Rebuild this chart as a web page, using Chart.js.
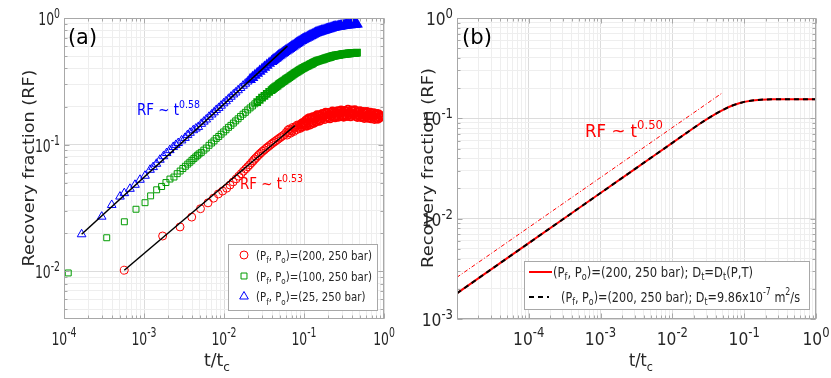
<!DOCTYPE html>
<html><head><meta charset="utf-8">
<script src="https://cdn.jsdelivr.net/npm/chart.js@4/dist/chart.umd.min.js"></script>
<style>
html,body{margin:0;padding:0;background:#fff;width:831px;height:378px;overflow:hidden}
#wa{position:absolute;left:0;top:0;width:415px;height:378px}
#wb{position:absolute;left:415px;top:0;width:416px;height:378px}
</style></head><body>
<div id="wa"><canvas id="ca"></canvas></div>
<div id="wb"><canvas id="cb"></canvas></div>
<script>
// ---------------- Panel (a) data ----------------
const redT = [5.67e-4,1.71e-3,2.82e-3,3.95e-3,5.08e-3,6.31e-3,7.4e-3,8.49e-3,9.6e-3,0.0108,
 0.0119,0.0130,0.0142,0.0153,0.0164,0.0175,0.0187,0.0198,0.0209,0.0221,0.0232,0.0243,0.0254,0.0266,0.0277,
 0.0290,0.0305,0.0320,0.0336,0.0352,0.0370,0.0388,0.0407,0.0427,0.0448,0.0470,0.0493,0.0517,0.0543,0.0570,
 0.060,0.0615,0.063,0.0645,0.066,0.0677,0.0694,0.0711,0.0729,0.0747,0.0766,0.0785,0.0805,0.0825,0.0846,0.0867,
 0.0889,0.0911,0.0934,0.0957,0.0981,0.1006,0.1031,0.1057,0.1083,0.111,0.1138,0.1166,0.1195,0.1225,0.1256,0.1287,
 0.1319,0.1352,0.1386,0.1421,0.1456,0.1493,0.153,0.1568,0.1608,0.1648,0.1689,0.1731,0.1775,0.1819,0.1865,0.1911,
 0.1959,0.2008,0.2058,0.211,0.2162,0.2216,0.2272,0.2329,0.2387,0.2447,0.2508,0.257,0.2635,0.27,0.2768,0.2837,
 0.2908,0.2981,0.3055,0.3132,0.321,0.329,0.3373,0.3457,0.3543,0.3632,0.3723,0.3816,0.3911,0.4009,0.4109,0.4212,
 0.4317,0.4425,0.4536,0.4649,0.4765,0.4884,0.5006,0.5132,0.526,0.5391,0.5526,0.5664,0.5806,0.5951,0.61,0.6252,
 0.6409,0.6569,0.6733,0.6901,0.7074,0.7251,0.7432,0.7618,0.7808,0.8003,0.8203,0.8408,0.8619,0.8834,0.9];
const redRF = [0.0102,0.0190,0.0224,0.0268,0.0312,0.0347,0.0378,0.0408,0.0430,0.0453,
 0.0480,0.0508,0.0537,0.0564,0.0590,0.0617,0.0643,0.0668,0.0693,0.0720,0.0745,0.0770,0.0793,0.0818,0.0840,
 0.0862,0.0888,0.0910,0.0935,0.0958,0.0982,0.1005,0.1030,0.1053,0.1077,0.1100,0.1125,0.1150,0.1175,0.1200,
 0.125,0.119,0.130,0.124,0.133,0.123,0.131,0.128,0.137,0.127,0.135,0.139,0.131,0.143,0.135,0.143,
 0.134,0.143,0.138,0.148,0.143,0.149,0.142,0.155,0.141,0.159,0.148,0.162,0.144,0.159,0.150,0.165,
 0.148,0.161,0.166,0.152,0.171,0.158,0.170,0.154,0.168,0.160,0.175,0.165,0.173,0.159,0.179,0.166,
 0.178,0.164,0.172,0.161,0.179,0.169,0.183,0.165,0.179,0.164,0.178,0.170,0.184,0.166,0.182,0.174,
 0.186,0.169,0.181,0.166,0.185,0.173,0.183,0.168,0.189,0.173,0.180,0.167,0.186,0.171,0.184,0.174,
 0.187,0.168,0.180,0.165,0.181,0.170,0.184,0.165,0.177,0.166,0.181,0.162,0.177,0.167,0.181,0.163,
 0.172,0.164,0.179,0.161,0.175,0.166,0.177,0.159,0.173,0.162,0.175,0.160,0.173,0.164,0.169];

const greenT = [1.13e-4,3.42e-4,5.68e-4,7.94e-4,1.03e-3,1.21e-3,1.44e-3,1.66e-3,1.88e-3,2.11e-3,2.37e-3,
 2.60e-3,2.83e-3,3.06e-3,3.29e-3,3.52e-3,3.74e-3,3.97e-3,4.20e-3,4.43e-3,4.65e-3,4.88e-3,
 0.0052,0.0056,0.006,0.0065,0.007,0.0075,0.008,0.0086,0.0092,0.0099,0.0106,0.0114,0.0122,0.0131,0.014,0.015,
 0.0161,0.0173,0.0185,0.0198,0.0212,0.0227,0.0243,0.026,0.0279,0.0299,0.032,0.0343,0.0367,0.0393,
 0.0407,0.0421,0.0436,0.0451,0.0467,0.0483,0.05,0.0517,0.0535,0.0554,0.0573,0.0593,0.0614,0.0635,0.0657,0.068,
 0.0704,0.0728,0.0754,0.078,0.0807,0.0835,0.0864,0.0894,0.0925,0.0957,0.099,0.1025,0.106,0.11,0.114,0.118,
 0.122,0.126,0.130,0.135,0.140,0.145,0.150,0.155,0.160,0.166,0.172,0.178,0.184,0.19,0.197,0.204,0.211,0.218,
 0.226,0.234,0.242,0.25,0.259,0.268,0.277,0.287,0.297,0.307,0.318,0.329,0.340,0.352,0.364,0.377,0.390,0.404,
 0.418,0.432,0.446,0.46];
const greenRF = [0.0097,0.0184,0.0246,0.0309,0.0348,0.0394,0.0440,0.0467,0.0502,0.0535,0.0555,
 0.0590,0.0619,0.0648,0.0675,0.0702,0.0726,0.0752,0.0776,0.0800,0.0823,0.0845,
 0.0869,0.0905,0.0940,0.0988,0.103,0.107,0.112,0.116,0.121,0.126,0.131,0.137,0.142,0.148,0.154,0.160,
 0.167,0.174,0.180,0.188,0.195,0.202,0.210,0.217,0.226,0.235,0.243,0.252,0.261,0.270,
 0.274,0.279,0.284,0.289,0.293,0.299,0.303,0.308,0.313,0.318,0.322,0.327,0.332,0.337,0.342,0.347,
 0.352,0.358,0.363,0.368,0.374,0.379,0.384,0.390,0.395,0.400,0.404,0.409,0.414,0.418,0.423,0.428,
 0.433,0.437,0.442,0.448,0.452,0.457,0.460,0.463,0.466,0.470,0.472,0.476,0.479,0.483,0.486,0.489,0.492,0.496,
 0.499,0.502,0.504,0.507,0.508,0.511,0.512,0.515,0.516,0.519,0.520,0.522,0.523,0.524,0.525,0.526,0.527,0.529,
 0.529,0.530,0.531,0.533];

const blueT = [1.66e-4,2.96e-4,3.95e-4,5.01e-4,5.67e-4,6.68e-4,7.72e-4,8.91e-4,1.03e-3,1.19e-3,1.30e-3,1.43e-3,
 1.58e-3,1.75e-3,1.92e-3,2.10e-3,2.32e-3,2.50e-3,2.68e-3,2.95e-3,3.25e-3,3.50e-3,3.76e-3,4.13e-3,4.45e-3,4.77e-3,
 0.0052,0.0056,0.006,0.0065,0.007,0.0075,0.008,0.0086,0.0092,0.0099,0.0106,0.0114,0.0122,0.0131,0.014,0.015,
 0.0161,0.0173,0.0185,0.0198,0.0212,0.0227,0.0243,0.026,0.0279,0.0299,0.032,0.0343,0.0367,0.0393,
 0.0407,0.0421,0.0436,0.0451,0.0467,0.0483,0.05,0.0517,0.0535,0.0554,0.0573,0.0593,0.0614,0.0635,0.0657,0.068,
 0.0704,0.0728,0.0754,0.078,0.0807,0.0835,0.0864,0.0894,0.0925,0.0957,0.099,0.1025,0.106,0.11,0.114,0.118,
 0.122,0.126,0.130,0.135,0.140,0.145,0.150,0.155,0.160,0.166,0.172,0.178,0.184,0.19,0.197,0.204,0.211,0.218,
 0.226,0.234,0.242,0.25,0.259,0.268,0.277,0.287,0.297,0.307,0.318,0.329,0.340,0.352,0.364,0.377,0.390,0.404,
 0.418,0.432,0.446,0.46];
const blueRF = [0.0196,0.0270,0.0334,0.0389,0.0414,0.0448,0.0482,0.0528,0.0568,0.0633,0.0665,0.0706,
 0.0760,0.0810,0.0859,0.0905,0.0959,0.0995,0.1030,0.1080,0.1130,0.1190,0.1240,0.1300,0.1340,0.1380,
 0.146,0.152,0.158,0.166,0.173,0.180,0.188,0.195,0.203,0.212,0.220,0.230,0.239,0.249,0.258,0.269,
 0.280,0.292,0.303,0.315,0.327,0.339,0.352,0.365,0.379,0.394,0.408,0.423,0.438,0.453,
 0.461,0.469,0.477,0.485,0.493,0.502,0.510,0.518,0.526,0.534,0.542,0.550,0.558,0.566,0.574,0.583,
 0.592,0.601,0.610,0.619,0.628,0.637,0.646,0.656,0.664,0.672,0.679,0.687,0.695,0.703,0.711,0.719,
 0.727,0.735,0.743,0.752,0.760,0.768,0.773,0.778,0.783,0.789,0.794,0.800,0.805,0.811,0.816,0.822,0.827,0.833,
 0.838,0.844,0.847,0.851,0.854,0.858,0.861,0.865,0.868,0.872,0.874,0.877,0.879,0.881,0.882,0.884,0.886,0.888,
 0.889,0.891,0.893,0.895];

const fitBlueT = [1.66e-4, 0.062];
const fitBlueRF = [0.0196, 0.60];
const fitRedT = [5.67e-4, 0.0772];
const fitRedRF = [0.0102, 0.1415];

const legendA = ['200', '100', '25'];

// ---------------- Panel (b) data ----------------
const modelT = [1.0e-5,3e-5,1e-4,3e-4,1e-3,3e-3,6e-3,0.01,0.015,0.02,0.025,0.03,0.04,0.05,0.06,0.07,0.085,0.1,0.13,0.17,0.25,0.4,1.0];
const varDtRF = [0.0018,0.00312,0.0057,0.00987,0.018,0.0312,0.0441,0.057,0.0698,0.0806,0.0898,0.0978,0.111,0.121,0.129,0.135,0.1415,0.1459,0.1508,0.1536,0.1548,0.155,0.155];
const constDtRF = [0.0018,0.00312,0.0057,0.00987,0.018,0.0312,0.0441,0.057,0.0698,0.0806,0.0898,0.0978,0.111,0.121,0.129,0.135,0.1415,0.1459,0.1508,0.1536,0.1548,0.155,0.155];
const slopeT = [1.0e-5, 0.05];
const slopeRF = [0.0026, 0.18];

// labelled decades (exponents)
const xTickExpA = [-4,-3,-2,-1,0];
const yTickExpA = [-2,-1,0];
const xTickExpB = [-4,-3,-2,-1,0];
const yTickExpB = [-3,-2,-1,0];

// ---------------- helpers ----------------
const FONT = '"DejaVu Sans", sans-serif';
const RED = 'rgb(255,0,0)', GREEN = 'rgb(0,155,0)', BLUE = 'rgb(0,0,255)';
const MAJOR_GRID = '#dcdcdc', MINOR_GRID = '#eeeeee', AXIS = '#a8a8a8', TXT = '#262626';

const pts = (xs, ys) => xs.map((v, i) => ({x: v, y: ys[i]}));
const denseWidth = (thr) => (c) => (c.raw && c.raw.x > thr) ? 1.8 : 1;

function logTicks(min, max) {
  const out = [];
  const e0 = Math.floor(Math.log10(min)), e1 = Math.ceil(Math.log10(max));
  for (let e = e0; e <= e1; e++) for (let m = 1; m <= 9; m++) {
    const v = m * Math.pow(10, e);
    if (v >= min * 0.9999 && v <= max * 1.0001) out.push({value: v, major: m === 1});
  }
  return out;
}

function drawRich(ctx, segs, x, y, o) {
  const size = o.size, k = o.k || 0.7;
  const rise = o.rise != null ? o.rise : 0.45, drop = o.drop != null ? o.drop : 0.28;
  ctx.save();
  ctx.fillStyle = o.color || TXT;
  ctx.textBaseline = 'alphabetic';
  ctx.textAlign = 'left';
  let w = 0;
  const parts = segs.map(([t, kind]) => {
    const f = kind ? size * k : size;
    ctx.font = f + 'px ' + FONT;
    const m = ctx.measureText(t).width;
    const p = {t, kind, f, off: w};
    w += m;
    return p;
  });
  const sx = o.fitW ? o.fitW / w : (o.sx || 1), sy = o.sy || 1;
  let x0 = 0;
  if (o.align === 'center') x0 = -w / 2; else if (o.align === 'right') x0 = -w;
  ctx.translate(x, y);
  if (o.rot) ctx.rotate(o.rot);
  ctx.scale(sx, sy);
  for (const p of parts) {
    ctx.font = p.f + 'px ' + FONT;
    const dy = p.kind === 1 ? size * drop : p.kind === 2 ? -size * rise : 0;
    ctx.fillText(p.t, x0 + p.off, dy);
  }
  ctx.restore();
  return sx;
}

function marker(ctx, style, x, y, r, color) {
  ctx.save();
  ctx.strokeStyle = color; ctx.lineWidth = 1;
  ctx.beginPath();
  if (style === 'circle') ctx.arc(x, y, r, 0, Math.PI * 2);
  else if (style === 'rect') { const s = Math.SQRT1_2 * r; ctx.rect(x - s, y - s, 2 * s, 2 * s); }
  else { for (let i = 0; i < 3; i++) { const a = i * 2 * Math.PI / 3; const px = x + Math.sin(a) * r, py = y - Math.cos(a) * r; i ? ctx.lineTo(px, py) : ctx.moveTo(px, py); } ctx.closePath(); }
  ctx.stroke();
  ctx.restore();
}

function frame(chart, t) {
  const {ctx, chartArea: a, scales: {x, y}} = chart;
  ctx.save();
  ctx.strokeStyle = AXIS; ctx.lineWidth = 1;
  const L = Math.round(a.left) + 0.5, R = Math.round(a.right) - 0.5, T = Math.round(a.top) + 0.5, B = Math.round(a.bottom) - 0.5;
  ctx.beginPath();
  for (const tk of x.ticks) {
    const px = Math.round(x.getPixelForValue(tk.value)) + 0.5, len = tk.major ? 5 : 3;
    ctx.moveTo(px, B); ctx.lineTo(px, B - len); ctx.moveTo(px, T); ctx.lineTo(px, T + len);
  }
  for (const tk of y.ticks) {
    const py = Math.round(y.getPixelForValue(tk.value)) + 0.5, len = tk.major ? 5 : 3;
    ctx.moveTo(L, py); ctx.lineTo(L + len, py); ctx.moveTo(R, py); ctx.lineTo(R - len, py);
  }
  ctx.stroke();
  ctx.strokeRect(L, T, R - L, B - T);
  ctx.restore();
  for (const e of t.xExp) {
    const px = x.getPixelForValue(Math.pow(10, e));
    drawRich(ctx, [['10', 0], [String(e), 2]], px, a.bottom + 26, {size: 18, sx: t.tsx, k: 0.75, rise: 0.42, align: 'center'});
  }
  for (const e of t.yExp) {
    const py = y.getPixelForValue(Math.pow(10, e));
    drawRich(ctx, [['10', 0], [String(e), 2]], a.left - 4, py + 7, {size: 18, sx: t.tsx, k: 0.75, rise: 0.38, align: 'right'});
  }
}

function logAxis(min, max) {
  return {
    type: 'logarithmic', min, max,
    ticks: {display: false},
    border: {display: false},
    grid: {color: (c) => (c.tick && c.tick.major) ? MAJOR_GRID : MINOR_GRID, drawTicks: false, lineWidth: 1},
    afterBuildTicks: (s) => { s.ticks = logTicks(min, max); }
  };
}

Chart.defaults.font.family = FONT;

// ---------------- Chart (a) ----------------
const decoA = {
  id: 'decoA',
  afterDraw(chart) {
    const ctx = chart.ctx;
    frame(chart, {xExp: xTickExpA, yExp: yTickExpA, tsx: 0.69});
    drawRich(ctx, [['(a)', 0]], 68, 44, {size: 22, fitW: 29, color: '#000'});
    drawRich(ctx, [['RF ~ t', 0], ['0.58', 2]], 137, 115, {size: 16, fitW: 63, color: BLUE});
    drawRich(ctx, [['RF ~ t', 0], ['0.53', 2]], 240, 189, {size: 16, fitW: 63, color: RED});
    drawRich(ctx, [['Recovery fraction (RF)', 0]], 34, 168, {size: 17.5, fitW: 197, sy: 0.88, rot: -Math.PI / 2, align: 'center'});
    drawRich(ctx, [['t/t', 0], ['c', 1]], 217, 366, {size: 17, fitW: 26, align: 'center'});
    ctx.save();
    ctx.fillStyle = '#fff'; ctx.fillRect(228, 244, 149, 66);
    ctx.strokeStyle = AXIS; ctx.strokeRect(228.5, 244.5, 149, 66);
    ctx.restore();
    const rows = [[255, 'circle', 4, RED], [276, 'rect', 4.2, GREEN], [296.5, 'triangle', 5, BLUE]];
    let lsx = null;
    rows.forEach(([ry, st, r, col], i) => {
      marker(ctx, st, 244, ry, r, col);
      const segs = [['(P', 0], ['f', 1], [', P', 0], ['o', 1], [')=(' + legendA[i] + ', 250 bar)', 0]];
      const o = {size: 13};
      if (lsx === null) o.fitW = 116; else o.sx = lsx;
      const s = drawRich(ctx, segs, 256, ry + 4.5, o);
      if (lsx === null) lsx = s;
    });
  }
};

new Chart(document.getElementById('ca'), {
  type: 'scatter',
  data: {
    datasets: [
      {type: 'line', data: pts(fitBlueT, fitBlueRF), borderColor: '#000', borderWidth: 1.5, pointRadius: 0, showLine: true, fill: false},
      {type: 'line', data: pts(fitRedT, fitRedRF), borderColor: '#000', borderWidth: 1.5, pointRadius: 0, showLine: true, fill: false},
      {data: pts(blueT, blueRF), pointStyle: 'triangle', pointRadius: 5, borderColor: BLUE, backgroundColor: 'rgba(0,0,0,0)', pointBorderWidth: denseWidth(0.02)},
      {data: pts(greenT, greenRF), pointStyle: 'rect', pointRadius: 4.2, borderColor: GREEN, backgroundColor: 'rgba(0,0,0,0)', pointBorderWidth: denseWidth(0.025)},
      {data: pts(redT, redRF), pointStyle: 'circle', pointRadius: 4, borderColor: RED, backgroundColor: 'rgba(0,0,0,0)', pointBorderWidth: denseWidth(0.09)}
    ]
  },
  options: {
    responsive: true, maintainAspectRatio: false, animation: false, devicePixelRatio: 1, events: [],
    layout: {padding: {left: 64, right: 31, top: 18, bottom: 59}},
    plugins: {legend: {display: false}, tooltip: {enabled: false}},
    scales: {x: logAxis(1e-4, 1), y: logAxis(0.0042, 1)}
  },
  plugins: [decoA]
});

// ---------------- Chart (b) ----------------
const decoB = {
  id: 'decoB',
  afterDraw(chart) {
    const ctx = chart.ctx;
    frame(chart, {xExp: xTickExpB, yExp: yTickExpB, tsx: 0.86});
    drawRich(ctx, [['(b)', 0]], 47, 44, {size: 22, fitW: 30, color: '#000'});
    drawRich(ctx, [['RF ~ t', 0], ['0.50', 2]], 170, 137, {size: 18, fitW: 78, color: RED});
    drawRich(ctx, [['Recovery fraction (RF)', 0]], 18, 168, {size: 17.5, fitW: 200, sy: 0.95, rot: -Math.PI / 2, align: 'center'});
    drawRich(ctx, [['t/t', 0], ['c', 1]], 226, 366, {size: 17, fitW: 24, align: 'center'});
    ctx.save();
    ctx.fillStyle = '#fff'; ctx.fillRect(109, 261, 285, 48);
    ctx.strokeStyle = AXIS; ctx.strokeRect(109.5, 261.5, 285, 48);
    ctx.lineWidth = 2;
    ctx.strokeStyle = RED; ctx.beginPath(); ctx.moveTo(114, 272); ctx.lineTo(137, 272); ctx.stroke();
    ctx.strokeStyle = '#000'; ctx.setLineDash([5, 4]); ctx.beginPath(); ctx.moveTo(114, 297); ctx.lineTo(134, 297); ctx.stroke();
    ctx.restore();
    drawRich(ctx, [['(P', 0], ['f', 1], [', P', 0], ['o', 1], [')=(200, 250 bar); D', 0], ['t', 1], ['=D', 0], ['t', 1], ['(P,T)', 0]], 138, 276.5, {size: 14, fitW: 200});
    drawRich(ctx, [['(P', 0], ['f', 1], [', P', 0], ['o', 1], [')=(200, 250 bar); D', 0], ['t', 1], ['=9.86x10', 0], ['-7', 2], [' m', 0], ['2', 2], ['/s', 0]], 146, 301.5, {size: 14, fitW: 239});
  }
};

new Chart(document.getElementById('cb'), {
  type: 'scatter',
  data: {
    datasets: [
      {type: 'line', data: pts(modelT, constDtRF), borderColor: '#000', borderWidth: 2, borderDash: [5, 4], pointRadius: 0, showLine: true, fill: false},
      {type: 'line', data: pts(modelT, varDtRF), borderColor: RED, borderWidth: 2, pointRadius: 0, showLine: true, fill: false},
      {type: 'line', data: pts(slopeT, slopeRF), borderColor: RED, borderWidth: 1, borderDash: [4, 2, 1, 2], pointRadius: 0, showLine: true, fill: false}
    ]
  },
  options: {
    responsive: true, maintainAspectRatio: false, animation: false, devicePixelRatio: 1, events: [],
    layout: {padding: {left: 42, right: 15, top: 18, bottom: 59}},
    plugins: {legend: {display: false}, tooltip: {enabled: false}},
    scales: {x: logAxis(1.005e-5, 1), y: logAxis(1e-3, 1)}
  },
  plugins: [decoB]
});
</script>
</body></html>
